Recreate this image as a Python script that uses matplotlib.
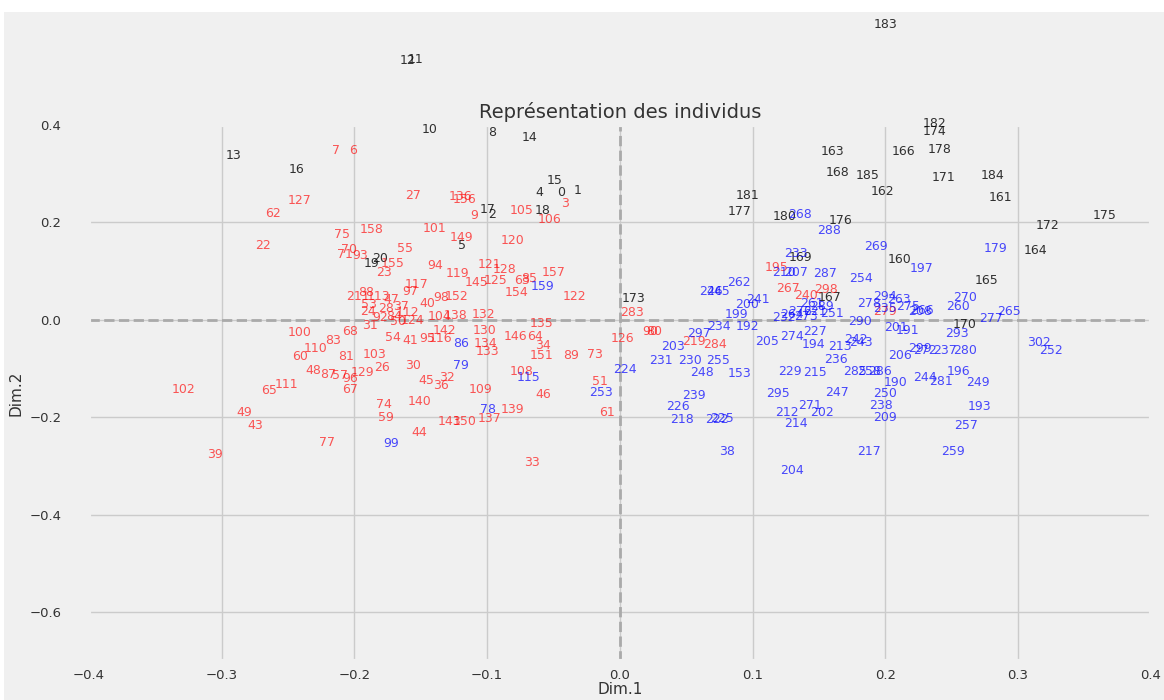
import matplotlib.pyplot as plt
from matplotlib.patches import Rectangle

# individuals projected on the first factorial plane, one list per cluster
ids_k = ["183", "12", "11", "10", "8", "14", "13", "16", "15", "4", "0", "1",
         "17", "2", "18", "5", "19", "20", "173", "181", "177", "180", "176",
         "163", "168", "185", "162", "166", "182", "174", "178", "171", "184",
         "161", "172", "175", "164", "165", "170", "160", "169", "167"]
dim1_k = [0.200, -0.160, -0.154, -0.143, -0.096, -0.068, -0.291, -0.244, -0.049,
          -0.061, -0.044, -0.032, -0.100, -0.096, -0.058, -0.119, -0.187, -0.181,
          0.010, 0.096, 0.090, 0.124, 0.166, 0.160, 0.164, 0.187, 0.198, 0.214,
          0.237, 0.237, 0.241, 0.244, 0.281, 0.287, 0.322, 0.365, 0.313, 0.276,
          0.260, 0.211, 0.136, 0.158]
dim2_k = [0.605, 0.531, 0.533, 0.390, 0.384, 0.373, 0.338, 0.308, 0.285, 0.261,
          0.261, 0.265, 0.226, 0.217, 0.224, 0.152, 0.115, 0.125, 0.043, 0.256,
          0.222, 0.211, 0.203, 0.345, 0.302, 0.297, 0.263, 0.345, 0.402, 0.386,
          0.349, 0.291, 0.297, 0.250, 0.193, 0.213, 0.142, 0.080, -0.010, 0.123,
          0.127, 0.045]

ids_r = ["7", "6", "127", "62", "27", "136", "156", "9", "105", "106", "3", "75",
         "158", "101", "149", "120", "22", "55", "70", "71", "93", "23", "155",
         "94", "119", "121", "128", "145", "125", "63", "85", "157", "154", "122",
         "117", "211", "88", "97", "98", "152", "113", "47", "40", "100", "68",
         "31", "83", "110", "60", "81", "103", "48", "87", "57", "67", "96", "129",
         "26", "30", "111", "65", "102", "49", "43", "39", "77", "74", "59", "44",
         "140", "143", "150", "137", "139", "109", "45", "36", "32", "54", "41",
         "95", "116", "142", "130", "134", "133", "146", "64", "34", "135", "151",
         "89", "73", "108", "46", "51", "61", "33", "126", "283", "90", "80", "50",
         "124", "104", "138", "132", "24", "28", "37", "92", "112", "84", "53",
         "195", "267", "279", "284", "219", "298", "240"]
dim1_r = [-0.214, -0.201, -0.241, -0.261, -0.156, -0.120, -0.117, -0.110, -0.074,
          -0.053, -0.041, -0.209, -0.187, -0.140, -0.119, -0.081, -0.269, -0.162,
          -0.204, -0.207, -0.196, -0.178, -0.171, -0.139, -0.122, -0.098, -0.087,
          -0.108, -0.094, -0.074, -0.068, -0.050, -0.078, -0.034, -0.153, -0.197,
          -0.191, -0.158, -0.135, -0.123, -0.182, -0.172, -0.145, -0.241, -0.203,
          -0.188, -0.216, -0.229, -0.241, -0.206, -0.185, -0.231, -0.220, -0.211,
          -0.203, -0.203, -0.194, -0.179, -0.156, -0.251, -0.264, -0.329, -0.283,
          -0.275, -0.305, -0.221, -0.178, -0.176, -0.151, -0.151, -0.128, -0.117,
          -0.098, -0.081, -0.105, -0.146, -0.135, -0.130, -0.171, -0.158, -0.145,
          -0.135, -0.132, -0.102, -0.101, -0.100, -0.079, -0.064, -0.058, -0.059,
          -0.059, -0.037, -0.019, -0.074, -0.058, -0.015, -0.010, -0.066, 0.002,
          0.009, 0.023, 0.026, -0.167, -0.156, -0.136, -0.124, -0.103, -0.190,
          -0.176, -0.165, -0.181, -0.160, -0.170, -0.189, 0.118, 0.127, 0.200,
          0.072, 0.056, 0.155, 0.140]
dim2_r = [0.347, 0.347, 0.244, 0.219, 0.256, 0.252, 0.246, 0.213, 0.224, 0.205,
          0.238, 0.174, 0.185, 0.187, 0.168, 0.162, 0.152, 0.146, 0.144, 0.133,
          0.131, 0.098, 0.115, 0.111, 0.094, 0.113, 0.103, 0.076, 0.080, 0.080,
          0.084, 0.096, 0.057, 0.047, 0.072, 0.047, 0.057, 0.059, 0.045, 0.047,
          0.047, 0.041, 0.033, -0.027, -0.025, -0.012, -0.043, -0.059, -0.076,
          -0.076, -0.072, -0.105, -0.113, -0.115, -0.142, -0.120, -0.109, -0.098,
          -0.094, -0.133, -0.146, -0.144, -0.191, -0.217, -0.277, -0.252, -0.174,
          -0.201, -0.232, -0.168, -0.209, -0.209, -0.203, -0.185, -0.144, -0.125,
          -0.135, -0.119, -0.037, -0.043, -0.039, -0.039, -0.021, -0.021, -0.049,
          -0.066, -0.035, -0.035, -0.053, -0.008, -0.074, -0.074, -0.072, -0.107,
          -0.154, -0.127, -0.191, -0.293, -0.039, 0.014, -0.025, -0.025, -0.004,
          -0.002, 0.006, 0.008, 0.010, 0.016, 0.023, 0.027, 0.004, 0.014, 0.006,
          0.031, 0.107, 0.064, 0.016, -0.051, -0.045, 0.062, 0.050]

ids_b = ["268", "288", "269", "197", "179", "233", "210", "207", "287", "254",
         "262", "245", "246", "241", "200", "199", "192", "234", "297", "203",
         "231", "230", "255", "248", "153", "205", "274", "227", "194", "213",
         "242", "290", "191", "201", "206", "299", "272", "237", "280", "270",
         "260", "293", "277", "265", "302", "252", "196", "249", "193", "257",
         "259", "190", "244", "281", "238", "209", "250", "217", "204", "214",
         "212", "295", "229", "215", "236", "243", "258", "285", "286", "202",
         "271", "247", "239", "226", "218", "222", "225", "38", "99", "159",
         "115", "86", "79", "78", "253", "224", "264", "273", "221", "276", "289",
         "251", "232", "261", "294", "263", "278", "275", "235", "266", "208"]
dim1_b = [0.136, 0.158, 0.193, 0.227, 0.283, 0.133, 0.124, 0.133, 0.155, 0.182,
          0.090, 0.074, 0.069, 0.104, 0.096, 0.088, 0.096, 0.075, 0.060, 0.040,
          0.031, 0.053, 0.074, 0.062, 0.090, 0.111, 0.130, 0.147, 0.146, 0.166,
          0.178, 0.181, 0.217, 0.208, 0.211, 0.226, 0.230, 0.245, 0.260, 0.260,
          0.255, 0.254, 0.280, 0.293, 0.316, 0.325, 0.255, 0.270, 0.271, 0.261,
          0.251, 0.208, 0.230, 0.242, 0.197, 0.200, 0.200, 0.188, 0.130, 0.133,
          0.126, 0.119, 0.128, 0.147, 0.163, 0.182, 0.188, 0.177, 0.196, 0.152,
          0.143, 0.164, 0.056, 0.044, 0.047, 0.073, 0.077, 0.081, -0.172, -0.058,
          -0.069, -0.120, -0.120, -0.099, -0.014, 0.004, 0.130, 0.140, 0.147,
          0.136, 0.152, 0.160, 0.124, 0.145, 0.200, 0.210, 0.188, 0.217, 0.200,
          0.228, 0.226]
dim2_b = [0.215, 0.183, 0.150, 0.105, 0.146, 0.135, 0.096, 0.096, 0.094, 0.084,
          0.076, 0.059, 0.059, 0.041, 0.031, 0.010, -0.014, -0.014, -0.029, -0.055,
          -0.084, -0.084, -0.084, -0.109, -0.111, -0.045, -0.035, -0.025, -0.051,
          -0.055, -0.041, -0.004, -0.021, -0.016, -0.074, -0.059, -0.062, -0.062,
          -0.062, 0.045, 0.027, -0.029, 0.002, 0.018, -0.047, -0.062, -0.107,
          -0.129, -0.178, -0.217, -0.271, -0.129, -0.119, -0.127, -0.176, -0.201,
          -0.152, -0.271, -0.310, -0.213, -0.191, -0.152, -0.107, -0.109, -0.082,
          -0.047, -0.107, -0.107, -0.107, -0.191, -0.176, -0.150, -0.156, -0.178,
          -0.205, -0.205, -0.203, -0.271, -0.254, 0.068, -0.119, -0.049, -0.094,
          -0.185, -0.150, -0.101, 0.010, 0.006, 0.016, 0.018, 0.027, 0.012, 0.004,
          0.033, 0.047, 0.041, 0.033, 0.027, 0.023, 0.020, 0.018]

plt.style.use('fivethirtyeight')

fig = plt.figure(figsize=(11.64, 7), dpi=100, facecolor='white')
fig.add_artist(Rectangle((4 / 1164, 0), 1, 688 / 700, transform=fig.transFigure,
                         facecolor='#f0f0f0', edgecolor='none', zorder=-1))
ax = fig.add_axes([0.0765, 0.0557, 0.912, 0.766])

for ids, xs, ys, col, a in [(ids_k, dim1_k, dim2_k, 'black', 0.8),
                            (ids_r, dim1_r, dim2_r, 'red', 0.65),
                            (ids_b, dim1_b, dim2_b, 'blue', 0.7)]:
    for lab, x, y in zip(ids, xs, ys):
        ax.text(x, y, lab, color=col, alpha=a, fontsize=9,
                ha='center', va='center')

ax.axhline(0, color='#aaaaaa', linestyle='--', linewidth=2)
ax.axvline(0, color='#aaaaaa', linestyle='--', linewidth=2)

ax.set_xlim(-0.4, 0.4)
ax.set_ylim(-0.7, 0.4)
ax.set_xticks([-0.4, -0.3, -0.2, -0.1, 0.0, 0.1, 0.2, 0.3, 0.4])
ax.set_yticks([-0.6, -0.4, -0.2, 0.0, 0.2, 0.4])
ax.grid(True, color='#cbcbcb', linewidth=1)
ax.tick_params(axis='both', labelsize=9.5, labelcolor='#333333')
ax.tick_params(axis='x', pad=6)
ax.tick_params(axis='y', pad=20)
ax.set_xlabel('Dim.1', fontsize=11, labelpad=0, color='#333333')
ax.set_ylabel('Dim.2', fontsize=11, labelpad=4, color='#333333')
ax.set_title('Représentation des individus', fontsize=14, pad=5, color='#333333')

fig.savefig('out.png', dpi=100, facecolor=fig.get_facecolor())
